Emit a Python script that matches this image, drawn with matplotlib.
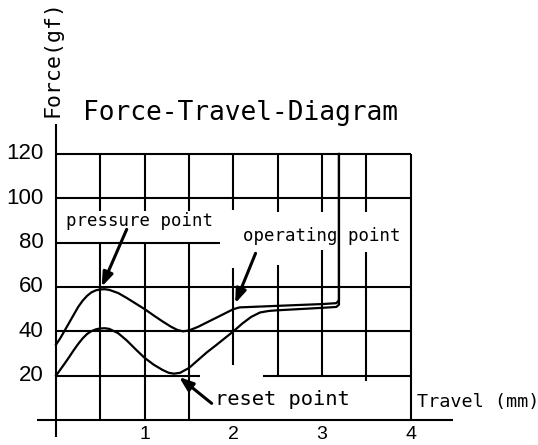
import matplotlib
matplotlib.use("Agg")
import matplotlib.pyplot as plt

# ---------------- data ----------------
title = "Force-Travel-Diagram"
y_label = "Force(gf)"
x_label = "Travel (mm)"
x_tick_values = [1, 2, 3, 4]
y_tick_values = [20, 40, 60, 80, 100, 120]

# upper curve (pressing)
upper_x = [0.00, 0.05, 0.10, 0.15, 0.20, 0.25, 0.30, 0.35, 0.40, 0.45, 0.50, 0.55, 0.60,
           0.70, 0.80, 0.90, 1.00, 1.10, 1.20, 1.30, 1.37, 1.43, 1.50, 1.60, 1.70,
           1.80, 1.90, 2.00, 2.07, 2.50, 3.00, 3.16, 3.19, 3.19]
upper_y = [34, 37, 40.5, 44, 47.5, 51, 53.8, 56, 57.6, 58.5, 58.9, 59, 58.7,
           57.3, 55, 52.5, 50, 47.2, 44.5, 42, 40.6, 40, 40.4, 42, 44,
           46, 48, 50, 50.8, 51.5, 52.3, 52.7, 54, 120]

# lower curve (return)
lower_x = [0.00, 0.05, 0.10, 0.15, 0.20, 0.25, 0.30, 0.35, 0.40, 0.45, 0.50, 0.55, 0.60,
           0.70, 0.80, 0.90, 1.00, 1.10, 1.20, 1.27, 1.33, 1.40, 1.50, 1.60, 1.70,
           1.80, 1.90, 2.00, 2.10, 2.20, 2.30, 2.40, 2.50, 3.00, 3.16, 3.19, 3.19]
lower_y = [20, 22.8, 25.6, 28.5, 31.5, 34.3, 36.8, 38.8, 40.1, 40.9, 41.3, 41.4, 41.1,
           39.2, 35.8, 31.8, 28, 25, 22.6, 21.3, 20.9, 21.3, 23.5, 27, 30.5,
           33.6, 36.8, 40, 43.5, 46.5, 48.5, 49.2, 49.5, 50.6, 51, 52, 120]

annotations = ["pressure point", "operating point", "reset point"]
annot_tips = [(0.515, 60.1), (2.02, 52.6), (1.387, 19.4)]
annot_tails = [(0.797, 86.0), (2.25, 75.2), (1.755, 7.5)]

# ---------------- figure ----------------
W, H = 538, 445
X0, XS = 56.0, 88.7      # pixel of x=0, pixels per mm
Y0, YS = 420.0, 2.2167   # pixel of y=0, pixels per gf

fig = plt.figure(figsize=(W / 100, H / 100), dpi=100)
ax = fig.add_axes([0, 0, 1, 1])
ax.set_xlim(-X0 / XS, (W - X0) / XS)
ax.set_ylim((Y0 - H) / YS, Y0 / YS)
ax.axis("off")

mono = "DejaVu Sans Mono"
num_font = "Liberation Sans"
LW = 1.5

def hl(y, x1, x2):
    ax.plot([x1, x2], [y, y], color="black", lw=LW, solid_capstyle="butt", clip_on=False)

def vl(x, y1, y2):
    ax.plot([x, x], [y1, y2], color="black", lw=LW, solid_capstyle="butt", clip_on=False)

# horizontal grid lines
hl(120, 0, 4)
hl(100, 0, 4)
hl(80, 0, 1.85)
hl(60, 0, 4)
hl(40, 0, 4)
hl(20, 0, 1.62)
hl(20, 2.33, 4)
# x axis
hl(0, -0.214, 4.476)

# vertical grid lines
vl(0, -7.7, 133.6)  # y axis
for xv in [0.5, 1.0, 1.5]:
    vl(xv, 94.5, 120)
    vl(xv, 0, 80)
vl(2.0, 94.7, 120); vl(2.0, 24.8, 68.6)
vl(2.5, 94.0, 120); vl(2.5, 20, 69.9)
vl(3.0, 94.0, 120); vl(3.0, 20, 76.7)
vl(3.5, 94.0, 120); vl(3.5, 17.6, 75.8)
vl(4.0, 0, 120)

# curves
ax.plot(upper_x, upper_y, color="black", lw=1.6, solid_joinstyle="round", clip_on=False)
ax.plot(lower_x, lower_y, color="black", lw=1.6, solid_joinstyle="round", clip_on=False)

# tick labels
for yv in y_tick_values:
    ax.text(-0.14, yv, str(yv), ha="right", va="center", fontsize=16,
            family=num_font, color="black")
for xv in x_tick_values:
    ax.text(xv, -8.6, str(xv), ha="center", va="baseline", fontsize=14,
            family=num_font, color="black")

# titles / axis labels
ax.text(0.30, 135.3, title, ha="left", va="baseline", fontsize=18.9, family=mono)
ax.text(-0.045, 162.9, y_label, ha="center", va="center", rotation=90,
        fontsize=15.5, family=mono)
ax.text(4.07, 6.0, x_label, ha="left", va="baseline", fontsize=13.3, family=mono)

# annotations
ax.text(0.113, 87.5, annotations[0], ha="left", va="baseline", fontsize=12.5, family=mono)
ax.text(2.11, 80.75, annotations[1], ha="left", va="baseline", fontsize=12.5, family=mono)
ax.text(1.79, 6.77, annotations[2], ha="left", va="baseline", fontsize=14.7, family=mono)

for tip, tail in zip(annot_tips, annot_tails):
    ax.annotate("", xy=tip, xytext=tail,
                arrowprops=dict(arrowstyle="-|>,head_length=0.6,head_width=0.22",
                                mutation_scale=14, lw=2.2, color="black",
                                shrinkA=0, shrinkB=0))

fig.savefig("out.png", dpi=100)
